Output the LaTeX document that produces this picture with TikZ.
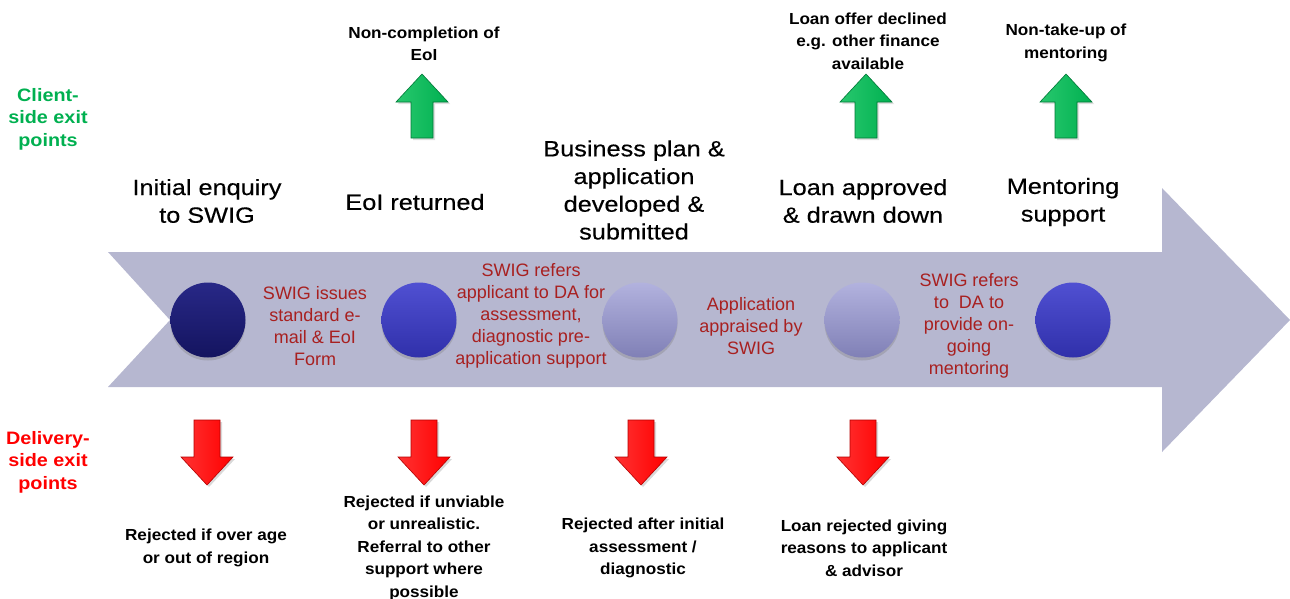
\documentclass[tikz,border=0pt]{standalone}
\usepackage{fontspec}
\setmainfont{Liberation Sans}
\newfontfamily\bigfnt[FakeStretch=1.15,FakeBold=0.4]{Liberation Sans}
\newfontfamily\smfnt[FakeStretch=1.07]{Liberation Sans}
\newfontfamily\sidefnt[FakeStretch=1.1]{Liberation Sans}
\usetikzlibrary{shadows}
\definecolor{band}{RGB}{182,183,208}
\definecolor{darkred}{RGB}{168,32,32}
\definecolor{sidegreen}{RGB}{0,176,80}
\definecolor{arrgreen}{RGB}{0,176,80}
\definecolor{arrgreenL}{RGB}{40,200,110}
\definecolor{arrgreenD}{RGB}{0,120,55}
\definecolor{arrred}{RGB}{255,0,0}
\definecolor{arrredL}{RGB}{255,50,50}
\definecolor{arrredD}{RGB}{180,0,0}
\definecolor{navyT}{RGB}{40,40,135}
\definecolor{navyB}{RGB}{20,20,95}
\definecolor{blueT}{RGB}{80,80,210}
\definecolor{blueB}{RGB}{48,48,170}
\definecolor{lavT}{RGB}{178,178,222}
\definecolor{lavB}{RGB}{128,128,182}
\begin{document}
\begin{tikzpicture}[x=1pt,y=-1pt,
  big/.style={align=center,font=\bigfnt\fontsize{22}{27.7}\selectfont,text=black,inner sep=0pt},
  sm/.style={align=center,font=\smfnt\bfseries\fontsize{16}{22.5}\selectfont,text=black,inner sep=0pt},
  redt/.style={align=center,font=\fontsize{18}{22}\selectfont,text=darkred,inner sep=0pt},
  side/.style={align=center,font=\sidefnt\bfseries\fontsize{18}{22.5}\selectfont,inner sep=0pt},
  ball/.style={circle,minimum size=75pt,inner sep=0pt,
    drop shadow={opacity=0.35,shadow xshift=0pt,shadow yshift=-3pt}},
  uparr/.pic={
    \shade[left color=arrgreenL,right color=arrgreen,draw=arrgreenD,line width=0.6pt,
      drop shadow={opacity=0.25,shadow xshift=2pt,shadow yshift=-2pt}]
      (-11,64) -- (-11,28) -- (-26,28) -- (0,0) -- (26,28) -- (11,28) -- (11,64) -- cycle;
  },
  downarr/.pic={
    \shade[left color=arrredL,right color=arrred,draw=arrredD,line width=0.6pt,
      drop shadow={opacity=0.3,shadow xshift=2pt,shadow yshift=-2pt}]
      (-13,0) -- (13,0) -- (13,37) -- (26,37) -- (0,65) -- (-26,37) -- (-13,37) -- cycle;
  }
]
\useasboundingbox (0,0) rectangle (1290,598);

% big process arrow
\fill[band] (108,252) -- (1162,252) -- (1162,188) -- (1290,320) -- (1162,452)
  -- (1162,387) -- (108,387) -- (170,320) -- cycle;

% side labels
\node[side,text=sidegreen] (client) at (48,119) {Client-\\side exit\\points};
\node[side,text=arrred] (delivery) at (48,462) {Delivery-\\side exit\\points};

% stage labels
\node[big] (s1) at (207,201) {Initial enquiry\\to SWIG};
\node[big] (s2) at (415,202) {EoI returned};
\node[big] (s3) at (634,190) {Business plan \&\\application\\developed \&\\submitted};
\node[big] (s4) at (863,201) {Loan approved\\\& drawn down};
\node[big] (s5) at (1063,202) {Mentoring\\support};

% client-side exit labels
\node[sm] (e2) at (424,44) {Non-completion of\\EoI};
\node[sm] (e4) at (868,41) {Loan offer declined\\e.g. other finance\\available};
\node[sm] (e5) at (1066,43) {Non-take-up of\\mentoring};

% green arrows
\pic at (422,74) {uparr};
\pic at (866,74) {uparr};
\pic at (1066,74) {uparr};

% balls
\node[ball,top color=navyT,bottom color=navyB] (c1) at (208,320) {};
\node[ball,top color=blueT,bottom color=blueB] (c2) at (419,320) {};
\node[ball,top color=lavT,bottom color=lavB] (c3) at (640,320) {};
\node[ball,top color=lavT,bottom color=lavB] (c4) at (862,320) {};
\node[ball,top color=blueT,bottom color=blueB] (c5) at (1073,320) {};

% in-band red texts
\node[redt] (r1) at (315,326) {SWIG issues\\standard e-\\mail \& EoI\\Form};
\node[redt] (r2) at (531,316) {SWIG refers\\applicant to DA for\\assessment,\\diagnostic pre-\\application support};
\node[redt] (r3) at (751,326) {Application\\appraised by\\SWIG};
\node[redt] (r4) at (969,326) {SWIG refers\\to\ \ DA to\\provide on-\\going\\mentoring};

% red arrows
\pic at (207,420) {downarr};
\pic at (424,420) {downarr};
\pic at (641,420) {downarr};
\pic at (863,420) {downarr};

% delivery-side exit labels
\node[sm] (d1) at (206,548) {Rejected if over age\\or out of region};
\node[sm] (d2) at (424,548) {Rejected if unviable\\or unrealistic.\\Referral to other\\support where\\possible};
\node[sm] (d3) at (643,548) {Rejected after initial\\assessment /\\diagnostic};
\node[sm] (d4) at (864,548) {Loan rejected giving\\reasons to applicant\\\& advisor};
\end{tikzpicture}
\end{document}
